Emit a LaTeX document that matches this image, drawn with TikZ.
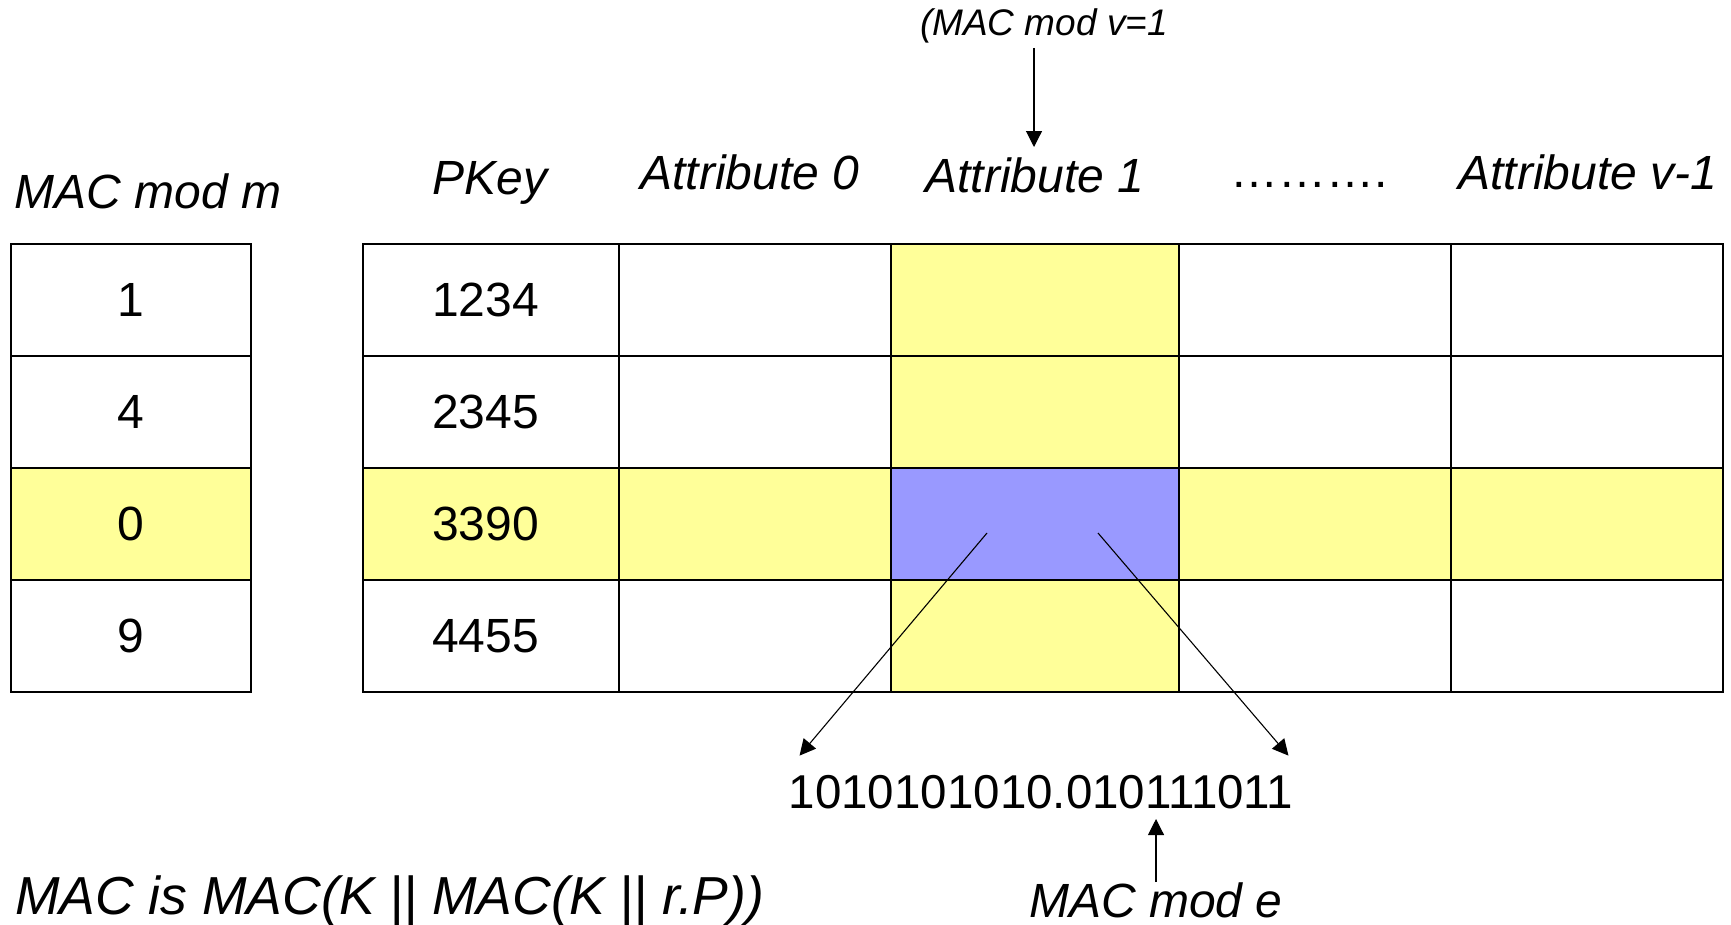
\documentclass[tikz,border=0pt]{standalone}
\usepackage{fontspec}
\setmainfont{Liberation Sans}
\usepackage{tikz}
\usetikzlibrary{arrows.meta}
\definecolor{hiyellow}{RGB}{255,255,153}
\definecolor{selblue}{RGB}{153,153,255}
\newcommand{\cellfont}{\fontsize{48}{56}\selectfont}
\newcommand{\headfont}{\fontsize{48}{56}\selectfont\itshape}

\begin{document}
\begin{tikzpicture}[x=1pt,y=-1pt]
\tikzstyle{cell}=[rectangle, draw, line width=1.7pt, minimum height=112pt, inner sep=0pt, font=\cellfont]
\tikzstyle{head}=[anchor=base, inner sep=4pt, font=\headfont]
\tikzstyle{hi}=[fill=hiyellow]
\tikzstyle{sel}=[fill=selblue]
\tikzstyle{arr}=[line width=1.1pt, -{Triangle[length=16pt,width=16pt]}]
\useasboundingbox (0,0) rectangle (1731,925);

% column heads
\node[head] (mh) at (148,209) {MAC mod m};
\node[head] (kh) at (490,195) {PKey};
\node[head] (a0h) at (750,190) {Attribute 0};
\node[head] (a1h) at (1035,193) {Attribute 1};
\node[head, font=\cellfont] (dh) at (1309,188) {……….};
\node[head] (a3h) at (1588,190) {Attribute v-1};
\node[head, font=\fontsize{37}{42}\selectfont\itshape] (vlbl) at (1044,36) {(MAC mod v=1};

% MAC mod m table
\node[cell, minimum width=240pt] (m1) at (131,300) {1};
\node[cell, minimum width=240pt] (m2) at (131,412) {4};
\node[cell, minimum width=240pt, hi] (m3) at (131,524) {0};
\node[cell, minimum width=240pt] (m4) at (131,636) {9};

% main table
\node[cell, minimum width=256pt] (k1) at (491,300) {1234\hspace*{11pt}};
\node[cell, minimum width=256pt] (k2) at (491,412) {2345\hspace*{11pt}};
\node[cell, minimum width=256pt, hi] (k3) at (491,524) {3390\hspace*{11pt}};
\node[cell, minimum width=256pt] (k4) at (491,636) {4455\hspace*{11pt}};
\node[cell, minimum width=272pt] (a10) at (755,300) {};
\node[cell, minimum width=272pt] (a20) at (755,412) {};
\node[cell, minimum width=272pt, hi] (a30) at (755,524) {};
\node[cell, minimum width=272pt] (a40) at (755,636) {};
\node[cell, minimum width=288pt, hi] (a11) at (1035,300) {};
\node[cell, minimum width=288pt, hi] (a21) at (1035,412) {};
\node[cell, minimum width=288pt, sel] (a31) at (1035,524) {};
\node[cell, minimum width=288pt, hi] (a41) at (1035,636) {};
\node[cell, minimum width=272pt] (a12) at (1315,300) {};
\node[cell, minimum width=272pt] (a22) at (1315,412) {};
\node[cell, minimum width=272pt, hi] (a32) at (1315,524) {};
\node[cell, minimum width=272pt] (a42) at (1315,636) {};
\node[cell, minimum width=272pt] (a13) at (1587,300) {};
\node[cell, minimum width=272pt] (a23) at (1587,412) {};
\node[cell, minimum width=272pt, hi] (a33) at (1587,524) {};
\node[cell, minimum width=272pt] (a43) at (1587,636) {};

% bits of the selected value
\node[anchor=base, inner sep=4pt, font=\fontsize{47.5}{56}\selectfont] (bits) at (1041,808) {1010101010.010111011};
\node[head, inner sep=2pt] (mode) at (1156,917) {MAC mod e};
\node[anchor=base west, inner sep=0pt, font=\fontsize{53.5}{60}\selectfont\itshape] (macdef) at (15,914) {MAC is MAC(K || MAC(K || r.P))};

\coordinate (etip) at (1156,819);
\draw[arr] ([xshift=-10pt]vlbl.south) -- ([xshift=-1pt,yshift=7pt]a1h.north);
\draw[arr] ([xshift=-48pt,yshift=-9pt]a31.center) -- ([xshift=15pt,yshift=15pt]bits.north west);
\draw[arr] ([xshift=63pt,yshift=-9pt]a31.center) -- ([xshift=-9pt,yshift=15pt]bits.north east);
\draw[arr] ([yshift=-2pt]mode.north) -- (etip);
\end{tikzpicture}
\end{document}
